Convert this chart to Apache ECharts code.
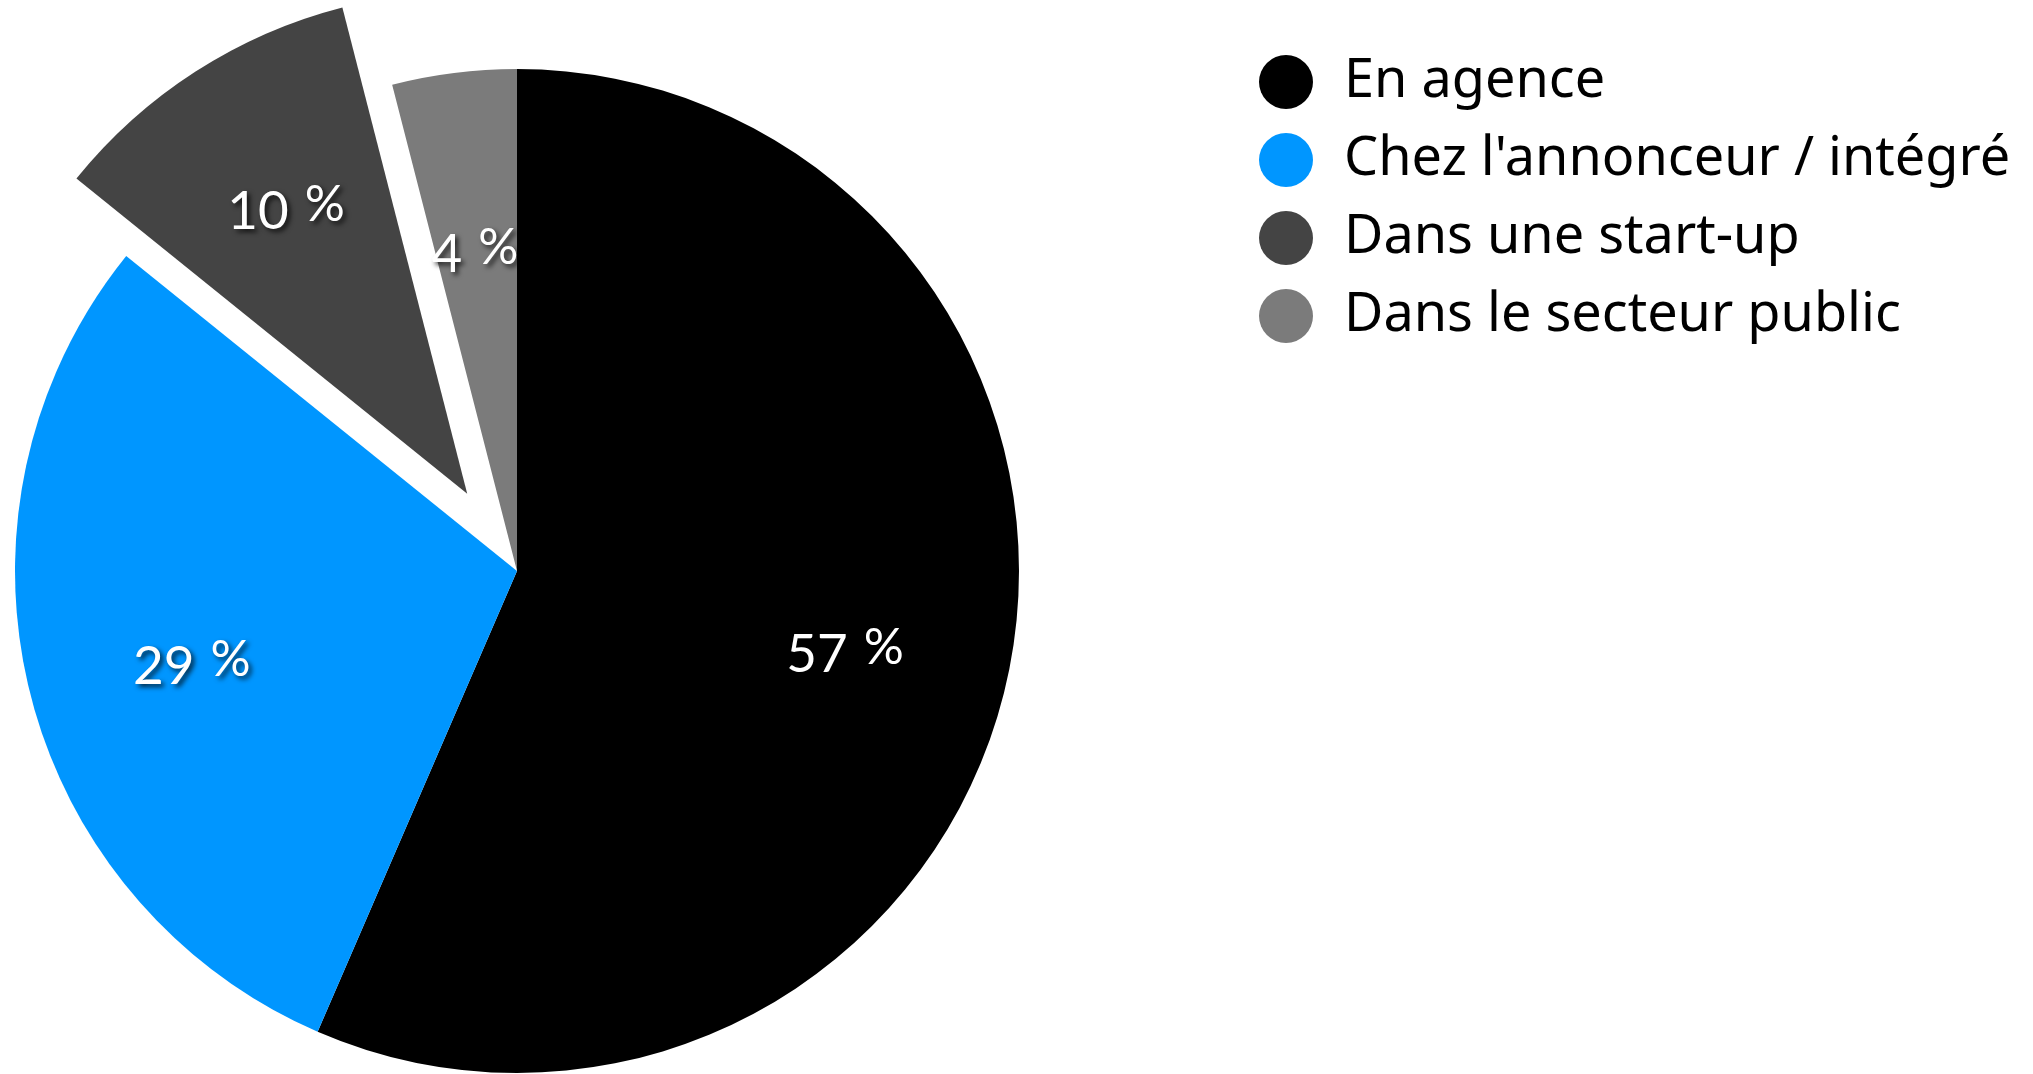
<!DOCTYPE html>
<html><head><meta charset="utf-8">
<script src="https://cdn.jsdelivr.net/npm/echarts@6/dist/echarts.min.js"></script>
<style>html,body{margin:0;padding:0;background:#fff}#c{width:2033px;height:1074px}</style>
</head><body><div id="c"></div>
<script>
const categories = ["En agence", "Chez l'annonceur / intégré", "Dans une start-up", "Dans le secteur public"];
const values = [56.5, 29.3, 10.2, 4.0];
const colors = ["#000000", "#0096FF", "#444444", "#7B7B7B"];
const selectedIndex = [2];

const chart = echarts.init(document.getElementById('c'));
const mainData = categories.map((n, i) => ({name: n, value: values[i], selected: selectedIndex.includes(i), itemStyle: {color: colors[i]}}));
const labelData = categories.map((n, i) => ({name: n, value: values[i], selected: selectedIndex.includes(i)}));
const shadow = {textShadowColor: 'rgba(0,0,0,0.75)', textShadowBlur: 5, textShadowOffsetX: 3, textShadowOffsetY: 3};
chart.setOption({
  animation: false,
  legend: {
    orient: 'vertical', left: 1254, top: 50,
    icon: 'circle', itemWidth: 54, itemHeight: 54, itemGap: 24,
    textStyle: {fontFamily: 'Noto Sans', fontSize: 54, color: '#000', padding: [0,0,0,26]},
    data: categories
  },
  series: [
    {
      type: 'pie', center: [517, 571], radius: [0, 502], startAngle: 90,
      selectedMode: 'single', selectedOffset: 92, silent: true,
      label: {show: false}, labelLine: {show: false},
      data: mainData
    },
    {
      type: 'pie', center: [517, 571], radius: [0, 664], startAngle: 90,
      selectedMode: 'single', selectedOffset: 92, silent: true, legendHoverLink: false,
      itemStyle: {color: 'rgba(0,0,0,0)'},
      labelLine: {show: false},
      label: {
        show: true, position: 'inside', offset: [0, 16],
        formatter: p => '{n|' + Math.round(p.value) + '}{p|%}',
        rich: {
          n: Object.assign({fontFamily: 'Lato', fontSize: 53, color: '#fff'}, shadow),
          p: Object.assign({fontFamily: 'Lato', fontSize: 50, color: '#fff', padding: [0,0,14,16]}, shadow)
        }
      },
      data: labelData
    }
  ]
});
</script></body></html>
